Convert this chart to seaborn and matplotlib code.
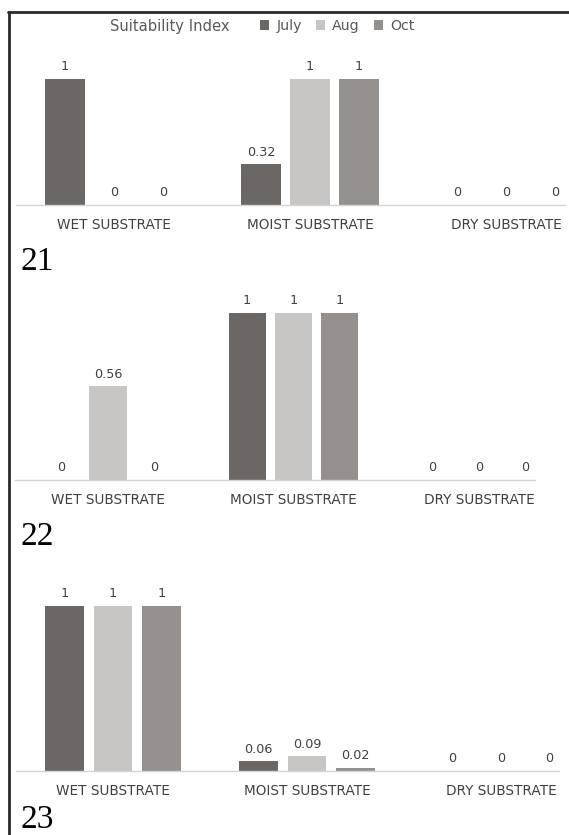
import matplotlib
matplotlib.use("Agg")
import matplotlib.pyplot as plt
from matplotlib.lines import Line2D
import pandas as pd
import seaborn as sns

# Suitability index per substrate and sampling month, one chart per site
substrates = ["WET SUBSTRATE", "MOIST SUBSTRATE", "DRY SUBSTRATE"]
months = ["July", "Aug", "Oct"]

site21_july = [1, 0.32, 0]
site21_aug = [0, 1, 0]
site21_oct = [0, 1, 0]

site22_july = [0, 1, 0]
site22_aug = [0.56, 1, 0]
site22_oct = [0, 1, 0]

site23_july = [1, 0.06, 0]
site23_aug = [1, 0.09, 0]
site23_oct = [1, 0.02, 0]

site_names = ["21", "22", "23"]
site_series = [
    (site21_july, site21_aug, site21_oct),
    (site22_july, site22_aug, site22_oct),
    (site23_july, site23_aug, site23_oct),
]

month_colors = {"July": "#6b6765", "Aug": "#c7c6c4", "Oct": "#94908e"}
text_color = "#404040"

sns.set_style("white")
plt.rcParams["font.family"] = ["DejaVu Sans"]

W, H = 569, 835
fig = plt.figure(figsize=(W / 100, H / 100), dpi=100)

# pixel layout of each chart: first category centre, category spacing,
# baseline, height of a value of 1, baseline of the site number
layouts = [
    dict(c0=114, step=196, base=204.5, unit=125.5, num_y=270),
    dict(c0=108, step=185.5, base=480, unit=167, num_y=545),
    dict(c0=113, step=194, base=771, unit=165, num_y=828),
]

for i, (name, series, lay) in enumerate(zip(site_names, site_series, layouts)):
    left = lay["c0"] - 0.5 * lay["step"]
    right = lay["c0"] + 2.3 * lay["step"]
    top = lay["base"] - lay["unit"]
    ax = fig.add_axes([left / W, 1 - lay["base"] / H,
                       (right - left) / W, (lay["base"] - top) / H])

    df = pd.DataFrame({
        "substrate": substrates * 3,
        "month": [m for m in months for _ in substrates],
        "index": [v for vals in series for v in vals],
    })
    sns.barplot(data=df, x="substrate", y="index", hue="month",
                order=substrates, hue_order=months, palette=month_colors,
                width=0.75, gap=0.2, saturation=1, errorbar=None,
                linewidth=0, legend=(i == 0), ax=ax)

    for cont in ax.containers:
        ax.bar_label(cont, labels=[f"{v:g}" for v in cont.datavalues],
                     padding=4, fontsize=9.2, color=text_color)

    ax.set_xlim(-0.5, 2.3)
    ax.set_ylim(0, 1)
    ax.set_xlabel("")
    ax.set_ylabel("")
    ax.set_yticks([])
    for side in ("top", "left", "right"):
        ax.spines[side].set_visible(False)
    ax.spines["bottom"].set_color("#d4d4d4")
    ax.spines["bottom"].set_linewidth(1)
    ax.tick_params(axis="x", length=0, pad=9.5, labelsize=9.8,
                   labelcolor=text_color)

    if i == 0:
        handles, labels = ax.get_legend_handles_labels()
        ax.get_legend().remove()
        fig.legend(handles, labels, ncol=3, loc="center left",
                   bbox_to_anchor=(260 / W, 1 - 26 / H), frameon=False,
                   fontsize=10.2, handlelength=0.65, handleheight=0.65,
                   handletextpad=0.5, columnspacing=1.0, borderpad=0,
                   borderaxespad=0, labelcolor="#595959")
        fig.text(110 / W, 1 - 26 / H, "Suitability Index", ha="left",
                 va="center", fontsize=10.6, color="#595959")

    fig.text(21 / W, 1 - lay["num_y"] / H, name, family="Liberation Serif",
             fontsize=24, va="baseline", ha="left", color="black")

# frame lines along the top and left edges
fig.add_artist(Line2D([8 / W, 1], [1 - 11.5 / H] * 2, color="#2a2a2a",
                      lw=2, transform=fig.transFigure))
fig.add_artist(Line2D([9 / W] * 2, [1 - 11.5 / H, 0], color="#2a2a2a",
                      lw=2, transform=fig.transFigure))

fig.savefig("out.png", dpi=100)
